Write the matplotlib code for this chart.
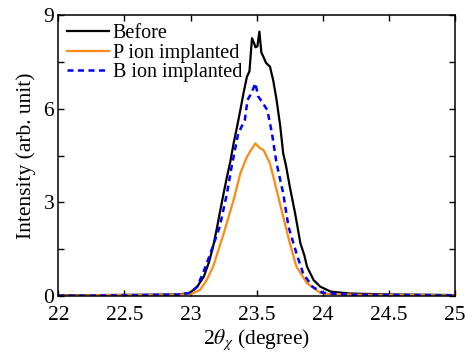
import matplotlib
matplotlib.use('Agg')
import matplotlib.pyplot as plt
from matplotlib import ticker as mticker

plt.rcParams['font.family'] = ['Liberation Serif', 'DejaVu Serif']
plt.rcParams['mathtext.fontset'] = 'stix'

# before implantation
before_x = [22.0, 22.3, 22.6, 22.9, 22.97, 23.0, 23.05, 23.10, 23.14, 23.17,
            23.20, 23.22, 23.25, 23.275, 23.30, 23.325, 23.35, 23.376, 23.40, 23.426,
            23.445, 23.464, 23.48, 23.49, 23.505, 23.52, 23.535, 23.55, 23.57, 23.60,
            23.625, 23.65, 23.678, 23.70, 23.72, 23.75, 23.79, 23.83, 23.86, 23.88,
            23.93, 23.98, 24.06, 24.2, 24.5, 24.8, 25.0]
before_y = [0.02, 0.03, 0.04, 0.05, 0.08, 0.12, 0.3, 0.62, 1.1, 1.58,
            2.2, 2.65, 3.3, 3.82, 4.3, 4.89, 5.4, 5.96, 6.5, 7.03,
            7.2, 8.26, 8.1, 7.97, 8.0, 8.47, 7.8, 7.67, 7.47, 7.35,
            6.9, 6.28, 5.43, 4.57, 4.2, 3.5, 2.65, 1.69, 1.3, 0.94,
            0.51, 0.30, 0.14, 0.08, 0.05, 0.04, 0.03]

# P ion implanted
p_x = [22.0, 22.4, 22.8, 23.0, 23.07, 23.12, 23.17, 23.25, 23.325, 23.376,
       23.426, 23.46, 23.49, 23.52, 23.55, 23.60, 23.65, 23.70, 23.75, 23.80,
       23.88, 23.98, 24.05, 24.3, 24.7, 25.0]
p_y = [0.01, 0.03, 0.03, 0.06, 0.19, 0.5, 0.94, 2.0, 3.08, 3.93,
       4.46, 4.7, 4.89, 4.75, 4.68, 4.25, 3.40, 2.54, 1.69, 0.94,
       0.41, 0.1, 0.06, 0.04, 0.03, 0.02]

# B ion implanted
b_x = [22.0, 22.5, 22.9, 23.0, 23.05, 23.10, 23.15, 23.22, 23.275, 23.31,
       23.36, 23.41, 23.43, 23.46, 23.49, 23.51, 23.53, 23.58, 23.615, 23.65,
       23.70, 23.74, 23.80, 23.85, 23.92, 24.0, 24.2, 24.6, 25.0]
b_y = [0.01, 0.02, 0.04, 0.1, 0.3, 0.8, 1.37, 2.22, 3.29, 4.14,
       5.21, 5.64, 6.28, 6.5, 6.82, 6.4, 6.28, 5.96, 5.21, 4.25,
       3.29, 2.22, 1.37, 0.73, 0.30, 0.1, 0.04, 0.03, 0.02]

fig = plt.figure(figsize=(4.73, 3.56), dpi=100)
ax = fig.add_axes([0.1233, 0.1685, 0.839, 0.789])

ax.plot(before_x, before_y, color='black', lw=1.6, label='Before')
ax.plot(p_x, p_y, color='#ff8a12', lw=1.6, label='P ion implanted')
ax.plot(b_x, b_y, color='#0000ff', lw=1.8, ls=(0, (2.4, 1.8)), label='B ion implanted')

ax.set_xlim(22, 25)
ax.set_ylim(0, 9)
ax.xaxis.set_major_locator(mticker.MultipleLocator(0.5))
ax.xaxis.set_major_formatter(mticker.FuncFormatter(lambda v, p: f'{v:g}'))
ax.yaxis.set_major_locator(mticker.MultipleLocator(3))
ax.yaxis.set_minor_locator(mticker.MultipleLocator(1.5))
ax.tick_params(which='both', direction='in', top=True, right=True,
               labelsize=15.5, length=4, width=1)
ax.tick_params(axis='x', pad=7)
ax.tick_params(axis='y', pad=3)
for s in ax.spines.values():
    s.set_linewidth(1.1)

ax.set_xlabel(r'2$\theta_{\chi}$ (degree)', fontsize=15.5, labelpad=2)
ax.set_ylabel('Intensity (arb. unit)', fontsize=15.5, labelpad=5)

ax.legend(loc='upper left', frameon=False, fontsize=14.5, handlelength=2.05,
          handletextpad=0.2, labelspacing=0.02, borderaxespad=0.25,
          borderpad=0.2)

fig.savefig('out.png', dpi=100)
